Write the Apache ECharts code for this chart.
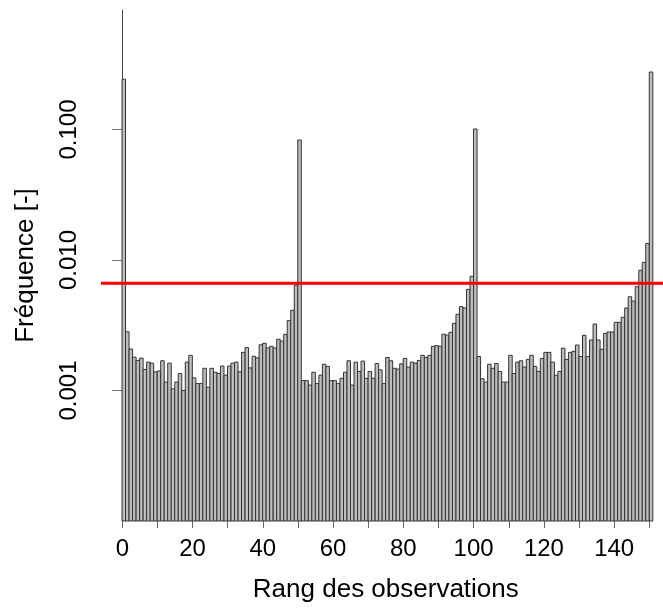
<!DOCTYPE html>
<html>
<head>
<meta charset="utf-8">
<script src="https://cdn.jsdelivr.net/npm/echarts@6/dist/echarts.min.js"></script>
<style>
  html, body { margin: 0; padding: 0; background: #fff; }
  #chart { width: 663px; height: 608px; }
</style>
</head>
<body>
<div id="chart"></div>
<script>
var freq = [
  0.243, 0.00282, 0.00208, 0.00180, 0.00170, 0.00177, 0.00145, 0.00165, 0.00162, 0.00139,
  0.00141, 0.00169, 0.00116, 0.00162, 0.00103, 0.00116, 0.00135, 0.00100, 0.00165, 0.00186,
  0.00125, 0.00113, 0.00113, 0.00148, 0.00106, 0.00148, 0.00138, 0.00135, 0.00154, 0.00131,
  0.00154, 0.00162, 0.00165, 0.00139, 0.00196, 0.00213, 0.00149, 0.00183, 0.00178, 0.00224,
  0.00230, 0.00212, 0.00218, 0.00212, 0.00247, 0.00239, 0.00269, 0.00343, 0.00412, 0.00640,
  0.0831, 0.00119, 0.00119, 0.00110, 0.00138, 0.00113, 0.00131, 0.00159, 0.00153, 0.00119,
  0.00119, 0.00113, 0.00124, 0.00138, 0.00169, 0.00110, 0.00165, 0.00140, 0.00168, 0.00124,
  0.00140, 0.00124, 0.00161, 0.00144, 0.00113, 0.00179, 0.00169, 0.00148, 0.00146, 0.00160,
  0.00176, 0.00151, 0.00165, 0.00162, 0.00170, 0.00186, 0.00179, 0.00186, 0.00218, 0.00221,
  0.00218, 0.00270, 0.00266, 0.00279, 0.00327, 0.00384, 0.00439, 0.00429, 0.00596, 0.00750,
  0.101, 0.00182, 0.00123, 0.00116, 0.00159, 0.00148, 0.00161, 0.00140, 0.00116, 0.00116,
  0.00186, 0.00135, 0.00165, 0.00169, 0.00151, 0.00173, 0.00186, 0.00153, 0.00140, 0.00176,
  0.00196, 0.00196, 0.00165, 0.00131, 0.00140, 0.00211, 0.00173, 0.00196, 0.00200, 0.00223,
  0.00182, 0.00265, 0.00182, 0.00244, 0.00323, 0.00244, 0.00207, 0.00274, 0.00281, 0.00281,
  0.00333, 0.00333, 0.00364, 0.00429, 0.00523, 0.00485, 0.00624, 0.00834, 0.00960, 0.0134,
  0.276
];
var seuil = 1 / 151;           // ligne rouge (fréquence uniforme)
var xTicks = [0, 10, 20, 30, 40, 50, 60, 70, 80, 90, 100, 110, 120, 130, 140, 150];
var xLabels = [0, 20, 40, 60, 80, 100, 120, 140];
var yTicks = [0.001, 0.01, 0.1];
var yMin = 1e-4, yMax = 0.824;
var xMin = -5.98, xMax = 153.9;   // étendue de la zone de tracé (comme dans R)

var chart = echarts.init(document.getElementById('chart'));
var font = 'Liberation Sans, Arial, sans-serif';

var barData = freq.map(function (v, i) { return [i, v]; });

function renderBar(params, api) {
  var i = api.value(0);
  var p0 = api.coord([i, api.value(1)]);
  var p1 = api.coord([i + 1, yMin]);
  return {
    type: 'rect',
    shape: { x: p0[0], y: p0[1], width: p1[0] - p0[0], height: p1[1] - p0[1] },
    style: { fill: '#bebebe', stroke: '#333333', lineWidth: 1 }
  };
}

var option = {
  animation: false,
  textStyle: { fontFamily: font },
  grid: [
    { left: 101, right: 0, top: 10, bottom: 87 },
    { left: 122.3, right: 13.7, top: 10, bottom: 87 }
  ],
  xAxis: [
    { gridIndex: 0, type: 'value', min: xMin, max: xMax, show: false },
    {
      gridIndex: 1, type: 'value', min: 0, max: 150, interval: 10,
      name: 'Rang des observations', nameLocation: 'middle', nameGap: 59,
      nameTextStyle: { fontSize: 26, color: '#000', fontFamily: font },
      axisLine: { lineStyle: { color: '#444', width: 1 } },
      axisTick: { customValues: xTicks, length: 10, lineStyle: { color: '#666' } },
      axisLabel: { customValues: xLabels, fontSize: 24, color: '#000', margin: 19, fontFamily: font },
      splitLine: { show: false }
    }
  ],
  yAxis: [
    {
      gridIndex: 0, type: 'log', logBase: 10, min: yMin, max: yMax,
      name: 'Fréquence [-]', nameLocation: 'middle', nameGap: 62,
      nameTextStyle: { fontSize: 26, color: '#000', fontFamily: font },
      axisLine: { show: true, lineStyle: { color: '#444', width: 1 } },
      axisTick: { show: true, customValues: yTicks, length: 10, lineStyle: { color: '#777' } },
      axisLabel: {
        customValues: yTicks, rotate: 90, fontSize: 24, color: '#000', margin: 20, fontFamily: font,
        formatter: function (v) { return Number(v).toFixed(3); }
      },
      splitLine: { show: false }
    },
    { gridIndex: 1, type: 'log', min: yMin, max: yMax, show: false }
  ],
  series: [
    {
      type: 'custom',
      xAxisIndex: 0,
      yAxisIndex: 0,
      renderItem: renderBar,
      encode: { x: 0, y: 1 },
      data: barData,
      silent: true
    },
    {
      // abline(h = 1/151) sur toute la largeur de la zone de tracé
      type: 'line',
      xAxisIndex: 0,
      yAxisIndex: 0,
      data: [[xMin, seuil], [xMax, seuil]],
      symbol: 'none',
      silent: true,
      lineStyle: { color: '#ff0000', width: 3 },
      z: 5
    }
  ]
};

chart.setOption(option);
</script>
</body>
</html>
